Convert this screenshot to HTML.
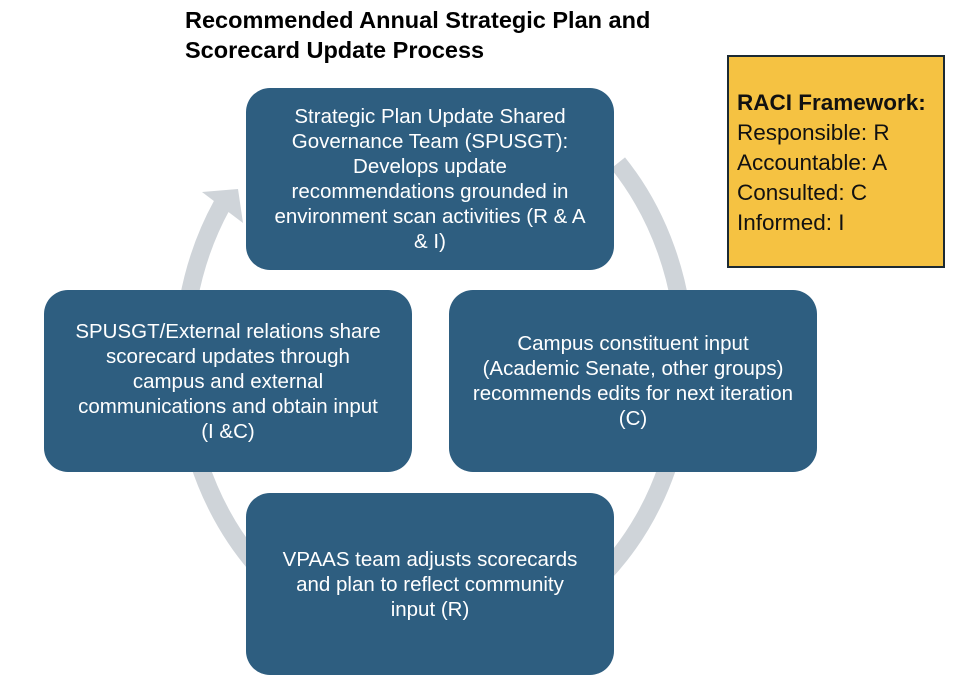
<!DOCTYPE html>
<html><head><style>
body{margin:0;width:973px;height:697px;background:#fff;position:relative;overflow:hidden;font-family:"Liberation Sans",sans-serif}
.t{position:absolute;left:185px;top:5px;font-weight:bold;font-size:23.5px;line-height:30px;color:#000}
.b{position:absolute;width:368px;height:182px;background:#2E5E80;border-radius:24px;color:#fff;font-size:20.5px;line-height:25px;text-align:center;display:flex;align-items:center;justify-content:center;box-sizing:border-box;white-space:nowrap}
.r{position:absolute;left:727px;top:55px;width:218px;height:213px;background:#F5C242;border:2px solid #1c2a33;box-sizing:border-box;padding:31px 0 0 8px;font-size:22.5px;line-height:30px;color:#111}
</style></head><body>
<svg width="973" height="697" style="position:absolute;left:0;top:0">
<path d="M618 163 A251 290 0 1 1 222 205" fill="none" stroke="#CFD4D9" stroke-width="18"/>
<polygon points="202,192 238,189 243,223" fill="#CFD4D9"/>
</svg>
<div class="t">Recommended Annual Strategic Plan and<br>Scorecard Update Process</div>
<div class="b" style="left:246px;top:88px">Strategic Plan Update Shared<br>Governance Team (SPUSGT):<br>Develops update<br>recommendations grounded in<br>environment scan activities (R &amp; A<br>&amp; I)</div>
<div class="b" style="left:44px;top:290px">SPUSGT/External relations share<br>scorecard updates through<br>campus and external<br>communications and obtain input<br>(I &amp;C)</div>
<div class="b" style="left:449px;top:290px">Campus constituent input<br>(Academic Senate, other groups)<br>recommends edits for next iteration<br>(C)</div>
<div class="b" style="left:246px;top:493px">VPAAS team adjusts scorecards<br>and plan to reflect community<br>input (R)</div>
<div class="r"><b>RACI Framework:</b><br>Responsible: R<br>Accountable: A<br>Consulted: C<br>Informed: I</div>
</body></html>
